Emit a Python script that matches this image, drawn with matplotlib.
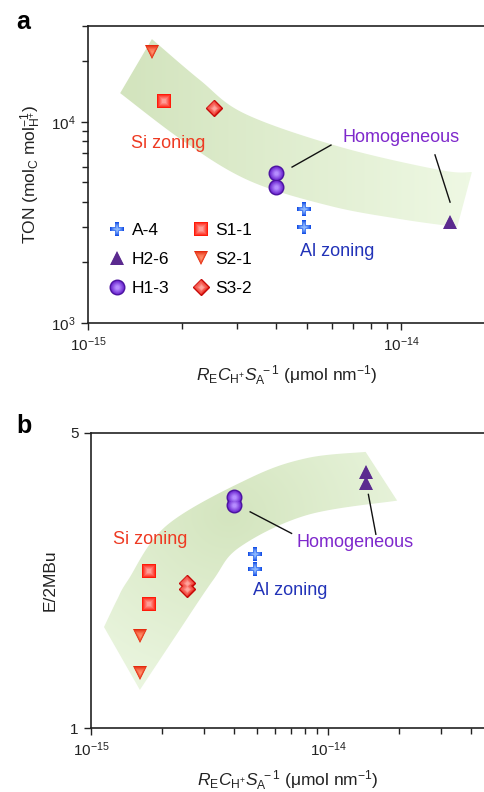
import numpy as np
import matplotlib
matplotlib.use("Agg")
import matplotlib.pyplot as plt
from matplotlib.patches import Polygon
from matplotlib.legend_handler import HandlerTuple
from matplotlib.ticker import NullLocator, FixedLocator, FixedFormatter, NullFormatter
from matplotlib.colors import to_rgb

# ---------------- data ----------------
# Panel a: TON versus R_E C_H+ S_A^-1
a4_xa = [4.91e-15, 4.91e-15]
a4_ton = [3.68e3, 3.00e3]
h26_xa = [1.434e-14]
h26_ton = [3.18e3]
h13_xa = [3.99e-15, 3.99e-15]
h13_ton = [5.56e3, 4.75e3]
s11_xa = [1.75e-15]
s11_ton = [1.27e4]
s21_xa = [1.60e-15]
s21_ton = [2.22e4]
s32_xa = [2.53e-15]
s32_ton = [1.17e4]

# Panel b: E/2MBu versus R_E C_H+ S_A^-1
a4_xb = [4.92e-15, 4.92e-15]
a4_e = [2.585, 2.38]
h26_xb = [1.443e-14, 1.443e-14]
h26_e = [4.04, 3.80]
h13_xb = [4.01e-15, 4.01e-15]
h13_e = [3.52, 3.38]
s11_xb = [1.757e-15, 1.757e-15]
s11_e = [2.35, 1.97]
s21_xb = [1.61e-15, 1.61e-15]
s21_e = [1.65, 1.35]
s32_xb = [2.55e-15, 2.55e-15]
s32_e = [2.20, 2.13]

labels = ["A-4", "H2-6", "H1-3", "S1-1", "S2-1", "S3-2"]

# axis ticks
x_major = [1e-15, 1e-14]
x_major_labels = [r"$10^{-15}$", r"$10^{-14}$"]
ton_major = [1e3, 1e4]
ton_major_labels = [r"$10^{3}$", r"$10^{4}$"]
e_major = [1, 5]
e_major_labels = ["1", "5"]

# ---------------- style ----------------
FONT = "Liberation Sans"
plt.rcParams.update({
    "font.family": [FONT, "DejaVu Sans"],
    "mathtext.fontset": "custom",
    "mathtext.rm": FONT,
    "mathtext.it": FONT + ":italic",
    "mathtext.bf": FONT + ":bold",
    "mathtext.default": "regular",
    "axes.linewidth": 1.2,
    "axes.edgecolor": "#222222",
})

STYLE = {
    "A-4": dict(marker="P", ms=10.5, base="#1650e6", light="#8cb8ff", edge=None),
    "H2-6": dict(marker="^", ms=10, base="#5b2a8f", light="#5b2a8f", edge=None),
    "H1-3": dict(marker="o", ms=10.5, base="#6620cc", light="#b68cff", edge="#4c14a0"),
    "S1-1": dict(marker="s", ms=9.5, base="#ff1a0a", light="#ff9c96", edge=None),
    "S2-1": dict(marker="v", ms=10, base="#e42a0e", light="#ff8a66", edge=None),
    "S3-2": dict(marker="D", ms=8, base="#ec2a20", light="#ffa49c", edge="#c40808"),
}

TXT = 13


def mix(c1, c2, f):
    a, b = np.array(to_rgb(c1)), np.array(to_rgb(c2))
    return tuple(a + (b - a) * f)


def glossy(ax, x, y, name, layers=6):
    """Marker drawn as stacked shrinking copies to fake a soft highlight."""
    st = STYLE[name]
    handles = []
    for k in range(layers):
        f = k / (layers - 1)
        size = st["ms"] * (1 - 0.72 * f)
        col = mix(st["base"], st["light"], f ** 0.9)
        kw = dict(ls="none", marker=st["marker"], ms=size, color=col,
                  markeredgewidth=0, zorder=5 + k * 0.01)
        if k == 0 and st["edge"]:
            kw.update(markeredgecolor=st["edge"], markeredgewidth=1.0)
        h, = ax.plot(x, y, **kw)
        handles.append(h)
    return tuple(handles)


def smooth(pts, n=24):
    """Catmull-Rom curve through the given points."""
    p = np.asarray(pts, float)
    p = np.vstack([p[0], p, p[-1]])
    out = []
    t = np.linspace(0, 1, n, endpoint=False)[:, None]
    for i in range(1, len(p) - 2):
        p0, p1, p2, p3 = p[i - 1], p[i], p[i + 1], p[i + 2]
        seg = 0.5 * ((2 * p1) + (-p0 + p2) * t
                     + (2 * p0 - 5 * p1 + 4 * p2 - p3) * t ** 2
                     + (-p0 + 3 * p1 - 3 * p2 + p3) * t ** 3)
        out.append(seg)
    out.append(p[-2][None])
    return np.vstack(out)


def band(ax, edge1, edge2, tfield, dark, light):
    """Shaded guide band with a colour gradient, in axes coordinates."""
    outline = np.vstack([smooth(edge1), smooth(edge2)])
    poly = Polygon(outline, closed=True, transform=ax.transAxes,
                   facecolor="none", edgecolor="none")
    ax.add_patch(poly)
    gx, gy = np.meshgrid(np.linspace(0, 1, 300), np.linspace(0, 1, 300))
    t = np.clip(tfield(gx, gy), 0, 1)[..., None]
    img = np.array(to_rgb(dark)) * (1 - t) + np.array(to_rgb(light)) * t
    im = ax.imshow(img, extent=[0, 1, 0, 1], transform=ax.transAxes,
                   origin="lower", aspect="auto", zorder=0,
                   interpolation="bilinear")
    im.set_clip_path(poly)


def log_minors(lo, hi):
    """Minor tick positions (2..9 x 10^n) inside [lo, hi]."""
    out = []
    for e in range(int(np.floor(np.log10(lo))), int(np.ceil(np.log10(hi))) + 1):
        for m in range(2, 10):
            v = m * 10.0 ** e
            if lo < v < hi:
                out.append(v)
    return out


def style_axes(ax):
    ax.spines["right"].set_visible(False)
    for s in ("left", "top", "bottom"):
        ax.spines[s].set_linewidth(1.2)
        ax.spines[s].set_color("#222222")
    ax.tick_params(which="both", direction="out", width=1.0, color="#222222",
                   labelsize=11, labelcolor="#222222", top=False, right=False)
    ax.tick_params(which="major", length=5, pad=4)
    ax.tick_params(which="minor", length=4)
    ax.xaxis.set_major_locator(FixedLocator(x_major))
    ax.xaxis.set_major_formatter(FixedFormatter(x_major_labels))
    ax.xaxis.set_minor_locator(FixedLocator(log_minors(*ax.get_xlim())))
    ax.xaxis.set_minor_formatter(NullFormatter())


XLABEL = r"$\mathit{R}_{E}\mathit{C}_{H^{+}}\mathit{S}_{A}^{\ -1}$ (μmol nm$^{-1}$)"

fig = plt.figure(figsize=(4.85, 7.92), dpi=100)

# ---------------- panel a ----------------
ax1 = fig.add_axes([88 / 485, 1 - 323 / 792, 1 - 88 / 485, (323 - 26) / 792])
ax1.set_xscale("log")
ax1.set_yscale("log")
ax1.set_xlim(1e-15, 10 ** (-15 + 397 / 313))
ax1.set_ylim(1e3, 3e4)
ax1.set_autoscale_on(False)

band(ax1,
     [(0.161, 0.956), (0.282, 0.818), (0.396, 0.704), (0.635, 0.593),
      (0.887, 0.515), (0.967, 0.508)],
     [(0.930, 0.323), (0.786, 0.350), (0.610, 0.394), (0.408, 0.478),
      (0.244, 0.609), (0.081, 0.774)],
     lambda gx, gy: (gx - 0.1) / 0.85, "#d3e4be", "#eef8e3")

hA = glossy(ax1, a4_xa, a4_ton, "A-4")
hH26 = glossy(ax1, h26_xa, h26_ton, "H2-6")
hH13 = glossy(ax1, h13_xa, h13_ton, "H1-3")
hS11 = glossy(ax1, s11_xa, s11_ton, "S1-1")
hS21 = glossy(ax1, s21_xa, s21_ton, "S2-1")
hS32 = glossy(ax1, s32_xa, s32_ton, "S3-2")

style_axes(ax1)
ax1.yaxis.set_major_locator(FixedLocator(ton_major))
ax1.yaxis.set_major_formatter(FixedFormatter(ton_major_labels))
ax1.yaxis.set_minor_locator(FixedLocator(log_minors(*ax1.get_ylim()) + [3e4]))
ax1.yaxis.set_minor_formatter(NullFormatter())
ax1.set_xlabel(XLABEL, fontsize=12.5, labelpad=7, color="#222222")
ax1.set_ylabel(r"TON (mol$_{C}$ mol$_{H^{+}}^{-1}$)", fontsize=12.5,
               labelpad=6, color="#222222")

ax1.text(0.2015, 0.606, "Si zoning", transform=ax1.transAxes, color="#ee3a22",
         fontsize=TXT, ha="center", va="center")
ax1.text(0.788, 0.623, "Homogeneous", transform=ax1.transAxes, color="#7e28cc",
         fontsize=TXT, ha="center", va="center")
ax1.text(0.627, 0.242, "Al zoning", transform=ax1.transAxes, color="#2233b8",
         fontsize=TXT, ha="center", va="center")
ax1.plot([0.514, 0.612], [0.525, 0.599], transform=ax1.transAxes,
         color="#111111", lw=1.0, zorder=6)
ax1.plot([0.874, 0.912], [0.566, 0.407], transform=ax1.transAxes,
         color="#111111", lw=1.0, zorder=6)

ax1.legend([hA, hH26, hH13, hS11, hS21, hS32], labels, ncol=2,
           handler_map={tuple: HandlerTuple(ndivide=1)},
           loc="upper left", bbox_to_anchor=(0.051, 0.338), frameon=False,
           fontsize=12.5, borderpad=0, borderaxespad=0, handlelength=1.0,
           handletextpad=0.36, columnspacing=1.3, labelspacing=0.8)

# ---------------- panel b ----------------
ax2 = fig.add_axes([91 / 485, 1 - 728 / 792, 1 - 91 / 485, (728 - 432.7) / 792])
ax2.set_xscale("log")
ax2.set_yscale("log")
ax2.set_xlim(1e-15, 10 ** (-15 + 394 / 237))
ax2.set_ylim(1, 5)
ax2.set_autoscale_on(False)

band(ax2,
     [(0.033, 0.342), (0.066, 0.434), (0.094, 0.501), (0.193, 0.687),
      (0.404, 0.847), (0.548, 0.914), (0.697, 0.935)],
     [(0.777, 0.770), (0.548, 0.721), (0.378, 0.613), (0.310, 0.501),
      (0.213, 0.308), (0.124, 0.129)],
     lambda gx, gy: np.hypot((gx - 0.35) / 0.55, (gy - 0.72) / 0.65),
     "#d4e5bf", "#ebf6e0")

glossy(ax2, a4_xb, a4_e, "A-4")
glossy(ax2, h26_xb, h26_e, "H2-6")
glossy(ax2, h13_xb, h13_e, "H1-3")
glossy(ax2, s11_xb, s11_e, "S1-1")
glossy(ax2, s21_xb, s21_e, "S2-1")
glossy(ax2, s32_xb, s32_e, "S3-2")

style_axes(ax2)
ax2.yaxis.set_major_locator(FixedLocator(e_major))
ax2.yaxis.set_major_formatter(FixedFormatter(e_major_labels))
ax2.yaxis.set_minor_locator(NullLocator())
ax2.set_xlabel(XLABEL, fontsize=12.5, labelpad=7, color="#222222")
ax2.set_ylabel("E/2MBu", fontsize=12.5, labelpad=9, color="#222222")

ax2.text(0.150, 0.640, "Si zoning", transform=ax2.transAxes, color="#ee3a22",
         fontsize=TXT, ha="center", va="center")
ax2.text(0.670, 0.627, "Homogeneous", transform=ax2.transAxes, color="#7e28cc",
         fontsize=TXT, ha="center", va="center")
ax2.text(0.505, 0.464, "Al zoning", transform=ax2.transAxes, color="#2233b8",
         fontsize=TXT, ha="center", va="center")
ax2.plot([0.404, 0.509], [0.732, 0.659], transform=ax2.transAxes,
         color="#111111", lw=1.0, zorder=6)
ax2.plot([0.704, 0.723], [0.791, 0.656], transform=ax2.transAxes,
         color="#111111", lw=1.0, zorder=6)

fig.text(16 / 485, 1 - 29 / 792, "a", fontsize=18, fontweight="bold",
         ha="left", va="baseline")
fig.text(16 / 485, 1 - 433 / 792, "b", fontsize=18, fontweight="bold",
         ha="left", va="baseline")

fig.savefig("out.png", dpi=100)
